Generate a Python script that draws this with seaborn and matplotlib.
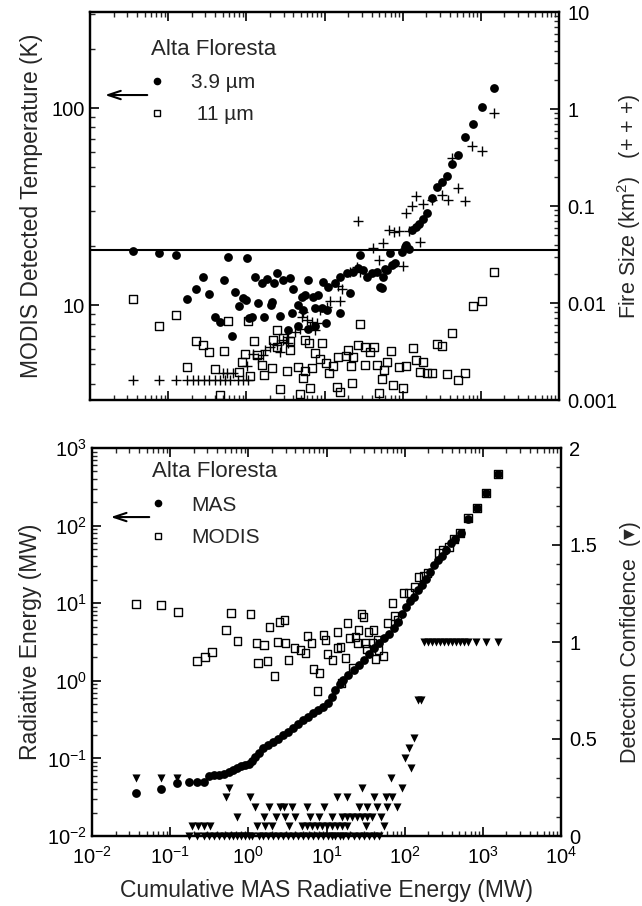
import numpy as np
import pandas as pd
import matplotlib
matplotlib.use("Agg")
import matplotlib.pyplot as plt
import seaborn as sns
from matplotlib.lines import Line2D
from matplotlib.ticker import LogLocator, FuncFormatter, NullFormatter, MultipleLocator, LogFormatterSciNotation

sns.set_style("ticks")
plt.rcParams["font.family"] = ["Liberation Sans", "DejaVu Sans"]
plt.rcParams["mathtext.fontset"] = "custom"
plt.rcParams["mathtext.rm"] = "Liberation Sans"
plt.rcParams["mathtext.it"] = "Liberation Sans:italic"
plt.rcParams["mathtext.default"] = "regular"

# ---------------- Top panel data ----------------
# 3.9 um detected temperature (K) vs cumulative MAS radiative energy (MW)
t39_x = [0.0355, 0.0764, 0.126, 0.174, 0.227, 0.279, 0.333, 0.397, 0.460, 0.518,
         0.582, 0.656, 0.716, 0.805, 0.905, 0.99, 1.02, 1.08, 1.18, 1.29,
         1.41, 1.58, 1.68, 1.84, 2.07, 2.13, 2.26, 2.47, 2.70, 2.94,
         3.41, 3.62, 3.84, 3.95, 4.58, 4.58, 5.15, 5.31, 5.62, 6.15,
         6.15, 7.13, 7.55, 7.55, 8.26, 9.29, 9.57, 10.4, 10.8, 11.1,
         13.6, 15.8, 15.8, 19.4, 21.2, 23.1, 26.8, 28.4, 31.0, 35.0,
         40.5, 46.9, 51.3, 54.3, 56.0, 59.4, 63.0, 68.9, 73.0, 79.8,
         98, 107, 110, 120, 132, 148, 162, 182, 205, 237,
         275, 318, 369, 428, 510, 627, 794, 1035, 1472]
t39_T = [18.8, 18.4, 17.9, 10.7, 12.1, 13.9, 11.4, 8.7, 8.2, 13.4,
         17.5, 7.0, 11.6, 9.9, 10.9, 10.6, 17.3, 8.6, 8.7, 13.9,
         10.2, 12.9, 8.7, 13.6, 10.0, 10.4, 12.9, 14.5, 8.8, 13.4,
         7.5, 13.7, 9.1, 12.1, 10.0, 7.8, 11.0, 9.4, 11.2, 13.4,
         7.6, 11.0, 9.65, 7.8, 11.2, 9.65, 13.1, 8.1, 9.4, 12.3,
         12.9, 9.1, 13.9, 14.5, 11.5, 14.7, 15.4, 17.9, 15.1, 13.9,
         14.5, 14.7, 12.4, 12.2, 13.9, 15.2, 15.1, 18.4, 16.0, 16.3,
         18.6, 19.8, 20.2, 19.2, 24.0, 24.9, 25.8, 27.3, 29.3, 34.9,
         39.7, 42.1, 45.2, 52.0, 57.7, 71.3, 83.0, 101, 126]

# 11 um detected temperature (K)
t11_x = [0.0355, 0.0764, 0.126, 0.174, 0.227, 0.279, 0.333, 0.397, 0.46, 0.518,
         0.582, 0.805, 0.88, 0.96, 1.05, 1.11, 1.25, 1.37, 1.58, 1.68,
         2.13, 2.19, 2.47, 2.47, 2.70, 2.94, 3.31, 3.62, 3.62, 4.58,
         4.86, 5.31, 5.62, 5.62, 6.34, 6.52, 6.92, 7.55, 8.75, 9.29,
         10.4, 11.4, 12.8, 14.5, 14.9, 15.8, 18.8, 20.0, 21.8, 22.5,
         23.1, 26.8, 28.4, 33.0, 33.0, 38.2, 43.0, 46.9, 49.8, 54.3,
         57.7, 63.0, 71.0, 75.2, 89.7, 101, 110, 135, 148, 167,
         182, 205, 237, 275, 318, 369, 428, 510, 627, 794,
         1035, 1472]
t11_T = [10.7, 7.8, 8.9, 4.85, 6.6, 6.3, 5.8, 4.73, 3.49, 5.84,
         8.3, 4.57, 5.14, 5.64, 8.3, 4.36, 6.56, 5.57, 4.96, 4.41,
         4.79, 6.64, 7.5, 6.12, 3.75, 6.8, 4.62, 6.56, 5.91, 4.85,
         3.53, 4.26, 6.64, 4.62, 6.41, 3.79, 4.79, 5.70, 5.32, 6.41,
         5.08, 4.52, 4.90, 3.83, 5.45, 3.62, 5.51, 5.91, 4.90, 4.02,
         5.45, 6.27, 8.0, 6.12, 4.96, 5.77, 6.12, 4.96, 3.57, 4.21,
         4.68, 5.14, 5.84, 3.93, 4.85, 3.79, 4.90, 6.05, 5.26, 4.57,
         5.14, 4.52, 4.52, 6.34, 6.19, 4.46, 7.2, 4.16, 4.52, 9.9,
         10.5, 14.7]

# Fire size (km^2)
fs_x = [0.0355, 0.0764, 0.126, 0.174, 0.208, 0.24, 0.289, 0.333, 0.397, 0.46,
        0.53, 0.62, 0.78, 0.905, 1.05, 0.503, 0.566, 0.675, 1.02, 1.41,
        1.22, 1.63, 1.73, 2.01, 2.47, 2.70, 2.94, 3.41, 3.41, 4.20,
        4.86, 5.15, 5.31, 5.97, 6.52, 6.92, 7.55, 8.02, 8.75, 10.8,
        11.7, 15.8, 16.7, 14.9, 21.2, 26.1, 28.4, 26.8, 41.7, 49.8,
        56.0, 66.8, 77.4, 89.7, 101, 110, 120, 132, 148, 167,
        182, 237, 318, 380, 428, 510, 627, 771, 1035, 1472]
fs_A = [0.00161, 0.00161, 0.00161, 0.00161, 0.00161, 0.00161, 0.00161, 0.00161, 0.00161, 0.00161,
        0.00161, 0.00161, 0.00161, 0.00161, 0.00161, 0.00192, 0.00192, 0.00192, 0.00225, 0.00272,
        0.00300, 0.00293, 0.00330, 0.00354, 0.00372, 0.00314, 0.00419, 0.00450, 0.00390, 0.00507,
        0.00544, 0.00725, 0.00816, 0.00675, 0.00570, 0.00643, 0.00531, 0.00628, 0.00857, 0.0092,
        0.0104, 0.0104, 0.0138, 0.0148, 0.0207, 0.0233, 0.0207, 0.070, 0.0367, 0.0276,
        0.0414, 0.0564, 0.0538, 0.0551, 0.0239, 0.0846, 0.0551, 0.100, 0.127, 0.0424,
        0.105, 0.115, 0.130, 0.115, 0.314, 0.154, 0.113, 0.419, 0.372, 0.92]

temp_threshold = 19.0

# ---------------- Bottom panel data ----------------
mas_x = [0.0366, 0.0767, 0.123, 0.175, 0.222, 0.273, 0.316, 0.366, 0.425, 0.492,
         0.570, 0.643, 0.723, 0.813, 0.916, 1.03, 1.13, 1.23, 1.38, 1.56,
         1.80, 2.09, 2.43, 2.81, 3.26, 3.78, 4.38, 5.07, 5.88, 6.81,
         7.89, 9.15, 10.3, 11.6, 13.0, 14.7, 16.5, 19.1, 22.2, 25.7,
         29.8, 34.5, 40.1, 46.4, 53.8, 62.4, 72.3, 81.3, 91.6, 103,
         116, 130, 147, 165, 186, 209, 236, 265, 298, 336,
         389, 437, 522, 642, 838, 1092, 1556]
mas_E = [0.0358, 0.0404, 0.0482, 0.0497, 0.0497, 0.0497, 0.0593, 0.0611, 0.0611, 0.063,
         0.0668, 0.0709, 0.0752, 0.0799, 0.0822, 0.0847, 0.0925, 0.104, 0.117, 0.136,
         0.149, 0.163, 0.178, 0.200, 0.219, 0.246, 0.278, 0.312, 0.342, 0.385,
         0.421, 0.460, 0.518, 0.618, 0.761, 0.910, 1.02, 1.19, 1.38, 1.60,
         1.85, 2.21, 2.65, 3.07, 3.56, 4.01, 4.79, 5.73, 7.26, 8.93,
         10.7, 12.0, 14.8, 17.2, 20.5, 25.2, 31.1, 36.1, 40.6, 48.5,
         59.7, 67.2, 80.3, 122, 169, 263, 462]

modis_x = [0.0366, 0.0767, 0.127, 0.222, 0.281, 0.345, 0.522, 0.605, 0.723, 1.06,
           1.27, 1.34, 1.60, 1.75, 1.86, 2.15, 2.35, 2.50, 2.90, 2.98,
           3.26, 3.89, 4.64, 5.38, 5.71, 6.42, 6.81, 7.67, 8.13, 9.15,
           9.71, 10.3, 11.9, 13.8, 13.8, 15.1, 15.6, 17.5, 18.6, 19.7,
           21.5, 23.5, 25.0, 25.7, 28.1, 29.8, 31.6, 32.6, 34.5, 38.9,
           40.1, 42.5, 45.1, 46.4, 53.8, 60.5, 70.2, 74.5, 81.3, 97.1,
           113, 134, 151, 175, 197, 273, 307, 366, 425, 507,
           642, 838, 1092, 1556]
modis_E = [9.77, 9.48, 7.70, 1.80, 2.03, 2.35, 4.51, 7.48, 3.26, 7.26,
           3.07, 1.70, 2.89, 1.80, 4.93, 1.15, 3.16, 5.73, 6.08, 3.07,
           1.85, 2.65, 2.49, 2.28, 3.78, 3.07, 1.42, 0.739, 1.26, 3.89,
           3.36, 2.21, 1.85, 4.26, 2.65, 2.73, 0.937, 1.97, 5.56, 3.56,
           1.46, 3.67, 3.07, 4.51, 7.26, 6.64, 3.07, 2.57, 4.26, 3.07,
           4.51, 1.91, 3.36, 2.49, 2.09, 5.56, 10.1, 6.84, 6.08, 13.5,
           13.5, 16.2, 21.8, 22.4, 24.5, 44.4, 48.5, 53.0, 67.2, 80.3,
           125, 169, 263, 462]

conf_x = [0.0366, 0.0767, 0.123, 67.5, 122,
          0.566, 28.7, 93.5,
          0.518, 1.06, 13.7, 18.4, 40.4, 57.1, 69.5,
          1.23, 1.82, 2.52, 2.84, 3.63, 5.66, 9.23, 25.9, 33.3, 44.7, 60.0, 80.6,
          0.716, 1.57, 2.29, 2.98, 4.01, 6.24, 7.96, 11.8, 15.9, 18.4, 21.3, 24.8, 28.7, 33.3, 38.5, 49.2,
          0.19, 0.229, 0.273, 0.326, 1.29, 1.65, 2.01, 3.29, 4.88, 5.66, 6.56, 7.60, 8.81, 10.2,
          11.8, 13.7, 15.9, 18.4, 31.6, 54.3,
          0.175, 0.222, 0.273, 0.316, 0.366, 0.425, 0.492, 0.570, 0.643, 0.723,
          0.813, 0.916, 1.03, 1.13, 1.38, 1.56, 1.80, 2.09, 2.43, 2.81,
          3.26, 3.78, 4.38, 5.07, 5.88, 6.81, 7.89, 9.15, 10.3, 11.6,
          13.0, 14.7, 16.5, 19.1, 22.2, 25.7, 29.8, 34.5, 40.1, 46.4,
          100, 114, 132, 146, 160,
          177, 199, 224, 252, 284, 319, 359, 404, 455, 512, 576, 648, 813, 1092, 1543]
conf_v = [0.30, 0.30, 0.30, 0.30, 0.35,
          0.25, 0.25, 0.25,
          0.20, 0.20, 0.20, 0.20, 0.20, 0.20, 0.20,
          0.15, 0.15, 0.15, 0.15, 0.15, 0.15, 0.15, 0.15, 0.15, 0.15, 0.15, 0.15,
          0.10, 0.10, 0.10, 0.10, 0.10, 0.10, 0.10, 0.10, 0.10, 0.10, 0.10, 0.10, 0.10, 0.10, 0.10, 0.10,
          0.05, 0.05, 0.05, 0.05, 0.05, 0.05, 0.05, 0.05, 0.05, 0.05, 0.05, 0.05, 0.05, 0.05,
          0.05, 0.05, 0.05, 0.05, 0.05, 0.05,
          0, 0, 0, 0, 0, 0, 0, 0, 0, 0,
          0, 0, 0, 0, 0, 0, 0, 0, 0, 0,
          0, 0, 0, 0, 0, 0, 0, 0, 0, 0,
          0, 0, 0, 0, 0, 0, 0, 0, 0, 0,
          0.40, 0.455, 0.505, 0.70, 0.70,
          1, 1, 1, 1, 1, 1, 1, 1, 1, 1, 1, 1, 1, 1, 1]

x_ticks = [1e-2, 1e-1, 1e0, 1e1, 1e2, 1e3, 1e4]

# ---------------- Figure ----------------
W, H = 642, 906
fig = plt.figure(figsize=(W / 100, H / 100), dpi=100)
ax1 = fig.add_axes([90 / W, 1 - 400 / H, 469 / W, 388 / H])
ax2 = fig.add_axes([92 / W, 1 - 836 / H, 469 / W, 388 / H])

FS_TICK = 14.5
FS_LAB = 16.5
FS_RLAB = 15.5
SPINE_W = 1.6

def style_ticks(ax):
    ax.tick_params(axis="both", which="major", direction="in", length=6.5, width=1.2,
                   labelsize=FS_TICK, colors="black")
    ax.tick_params(axis="both", which="minor", direction="in", length=3.5, width=1.0)
    for sp in ax.spines.values():
        sp.set_linewidth(SPINE_W)
        sp.set_color("black")

plain = FuncFormatter(lambda v, p: f"{v:g}")
minor_log = LogLocator(base=10, subs=np.arange(2, 10), numticks=100)
major_log = LogLocator(base=10, numticks=100)

# ---- top panel ----
df39 = pd.DataFrame({"x": t39_x, "T": t39_T})
df11 = pd.DataFrame({"x": t11_x, "T": t11_T})
dfa = pd.DataFrame({"x": fs_x, "A": fs_A})

ax1.set_xscale("log")
ax1.set_yscale("log")
ax1.axhline(temp_threshold, color="black", lw=1.5, zorder=1)
sns.scatterplot(data=df11, x="x", y="T", ax=ax1, marker="s", s=32,
                facecolor="none", edgecolor="black", linewidth=1.0, legend=False, zorder=3)
sns.scatterplot(data=df39, x="x", y="T", ax=ax1, marker="o", s=40,
                color="black", edgecolor="black", linewidth=0, legend=False, zorder=4)
ax1.set_xlim(1e-2, 1e4)
ax1.set_ylim(3.3, 307)
ax1.xaxis.set_major_locator(major_log)
ax1.xaxis.set_minor_locator(minor_log)
ax1.yaxis.set_major_locator(major_log)
ax1.yaxis.set_minor_locator(minor_log)
ax1.yaxis.set_major_formatter(plain)
ax1.yaxis.set_minor_formatter(NullFormatter())
ax1.set_xlabel("")
ax1.set_ylabel("MODIS Detected Temperature (K)", fontsize=FS_LAB, labelpad=6)
style_ticks(ax1)
ax1.tick_params(axis="x", which="both", top=True, bottom=True, labelbottom=False)
ax1.tick_params(axis="y", which="major", pad=4)

ax1r = ax1.twinx()
ax1r.set_yscale("log")
sns.scatterplot(data=dfa, x="x", y="A", ax=ax1r, marker="+", s=44,
                color="black", linewidth=1.0, legend=False, zorder=4)
ax1r.set_ylim(1e-3, 10)
ax1r.set_xlim(1e-2, 1e4)
ax1r.yaxis.set_major_locator(major_log)
ax1r.yaxis.set_minor_locator(minor_log)
ax1r.yaxis.set_major_formatter(plain)
ax1r.yaxis.set_minor_formatter(NullFormatter())
ax1r.set_ylabel("Fire Size (km$^2$)   (+ + +)", fontsize=FS_RLAB)
ax1r.yaxis.set_label_coords((615 - 90) / 469, 0.5)
style_ticks(ax1r)
ax1r.tick_params(axis="y", which="major", pad=6)

leg_handles1 = [Line2D([], [], marker="o", ls="", color="black", markersize=4.5),
                Line2D([], [], marker="s", ls="", mfc="none", mec="black", markersize=4.5, mew=1.0)]
leg1 = ax1.legend(leg_handles1, ["3.9 µm", " 11 µm"], title="Alta Floresta",
                  loc="upper left", bbox_to_anchor=(0.13, 0.93), frameon=False,
                  fontsize=15, title_fontsize=16, alignment="left",
                  handlelength=0.6, handletextpad=1.3, labelspacing=0.62,
                  borderpad=0, borderaxespad=0)
ax1.annotate("", xy=(0.026, 0.786), xytext=(0.128, 0.786), xycoords="axes fraction",
             arrowprops=dict(arrowstyle="->,head_length=0.9,head_width=0.3", lw=1.5, color="black"))

# ---- bottom panel ----
dfm = pd.DataFrame({"x": mas_x, "E": mas_E})
dfd = pd.DataFrame({"x": modis_x, "E": modis_E})
dfc = pd.DataFrame({"x": conf_x, "c": conf_v})

ax2.set_xscale("log")
ax2.set_yscale("log")
sns.scatterplot(data=dfd, x="x", y="E", ax=ax2, marker="s", s=30,
                facecolor="none", edgecolor="black", linewidth=1.0, legend=False, zorder=3)
sns.scatterplot(data=dfm, x="x", y="E", ax=ax2, marker="o", s=40,
                color="black", edgecolor="black", linewidth=0, legend=False, zorder=4)
ax2.set_xlim(1e-2, 1e4)
ax2.set_ylim(1e-2, 1e3)
ax2.xaxis.set_major_locator(major_log)
ax2.xaxis.set_minor_locator(minor_log)
ax2.yaxis.set_major_locator(major_log)
ax2.yaxis.set_minor_locator(minor_log)
ax2.xaxis.set_major_formatter(LogFormatterSciNotation())
ax2.yaxis.set_major_formatter(LogFormatterSciNotation())
ax2.xaxis.set_minor_formatter(NullFormatter())
ax2.yaxis.set_minor_formatter(NullFormatter())
ax2.set_xticks(x_ticks)
ax2.set_xlabel("Cumulative MAS Radiative Energy (MW)", fontsize=FS_LAB, labelpad=8)
ax2.set_ylabel("Radiative Energy (MW)", fontsize=FS_LAB, labelpad=4)
style_ticks(ax2)
ax2.tick_params(axis="x", which="both", top=True, bottom=True)
ax2.tick_params(axis="x", which="major", pad=7)

ax2r = ax2.twinx()
sns.scatterplot(data=dfc, x="x", y="c", ax=ax2r, marker="v", s=34,
                color="black", edgecolor="black", linewidth=0, legend=False,
                zorder=4, clip_on=False)
ax2r.set_ylim(0, 2)
ax2r.set_xlim(1e-2, 1e4)
ax2r.yaxis.set_major_locator(MultipleLocator(0.5))
ax2r.yaxis.set_minor_locator(MultipleLocator(0.1))
ax2r.yaxis.set_major_formatter(plain)
ax2r.set_ylabel("Detection Confidence  (▾)", fontsize=FS_RLAB)
ax2r.yaxis.set_label_coords((620 - 92) / 469, 0.5)
style_ticks(ax2r)
ax2r.tick_params(axis="y", which="major", pad=6)

leg_handles2 = [Line2D([], [], marker="o", ls="", color="black", markersize=4.5),
                Line2D([], [], marker="s", ls="", mfc="none", mec="black", markersize=4.5, mew=1.0)]
leg2 = ax2.legend(leg_handles2, ["MAS", "MODIS"], title="Alta Floresta",
                  loc="upper left", bbox_to_anchor=(0.128, 0.966), frameon=False,
                  fontsize=15, title_fontsize=16, alignment="left",
                  handlelength=0.6, handletextpad=1.3, labelspacing=0.65,
                  borderpad=0, borderaxespad=0)
ax2.annotate("", xy=(0.034, 0.822), xytext=(0.128, 0.822), xycoords="axes fraction",
             arrowprops=dict(arrowstyle="->,head_length=0.9,head_width=0.3", lw=1.5, color="black"))

fig.savefig("out.png", dpi=100)
